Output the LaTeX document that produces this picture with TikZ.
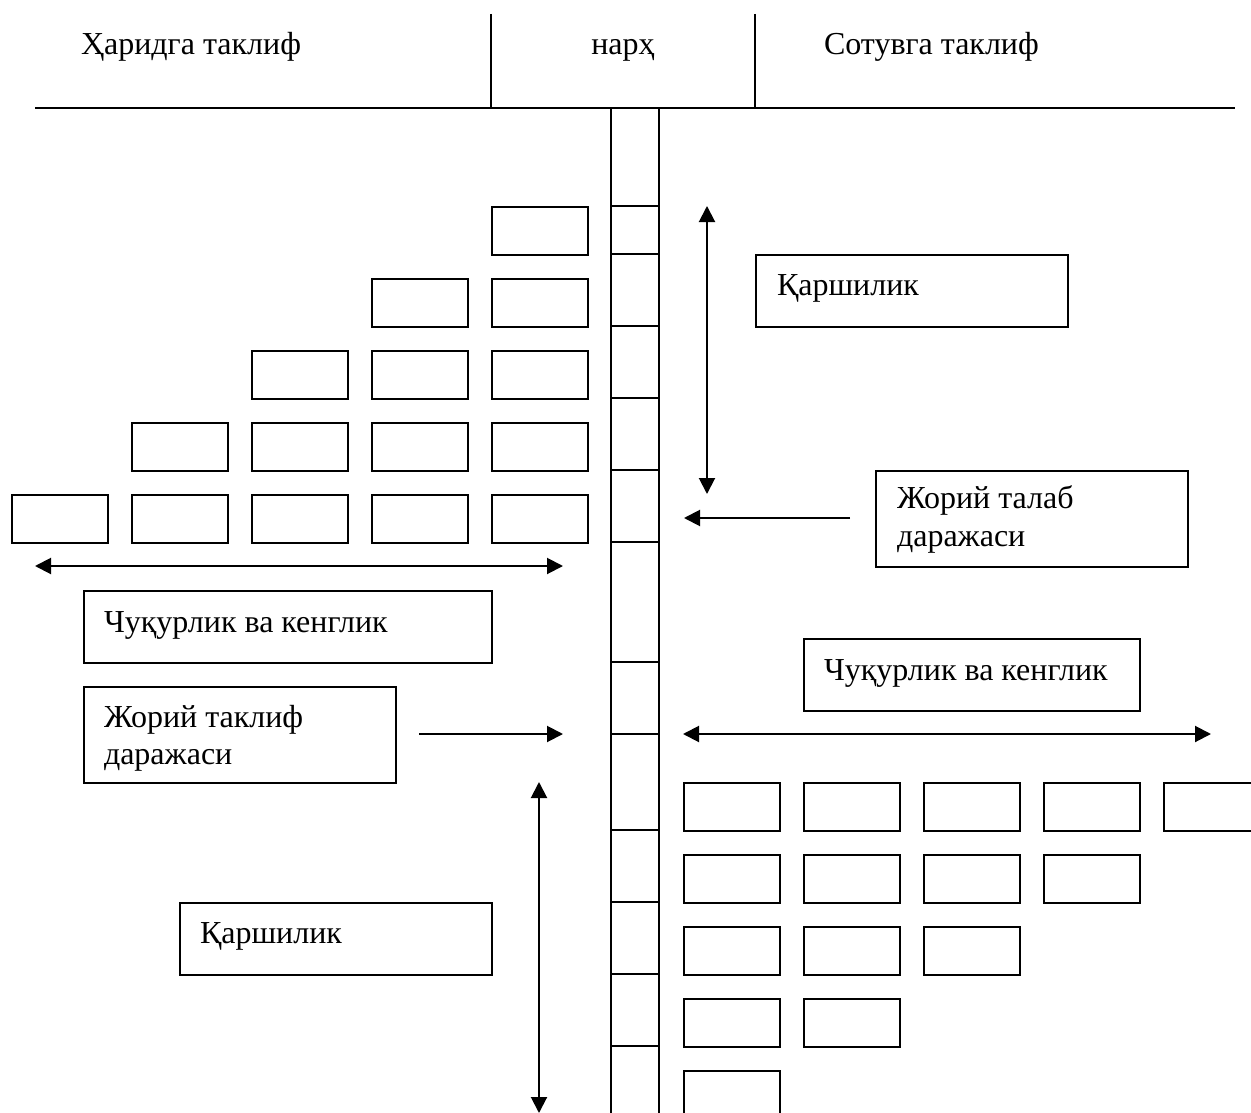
\documentclass[tikz,border=0pt]{standalone}
\usepackage{fontspec}
\setmainfont{Liberation Serif}
\usetikzlibrary{arrows.meta}

\begin{document}
\begin{tikzpicture}[x=1pt,y=-1pt,
  line width=2pt,
  cell/.style={draw, line width=2pt, anchor=north west, inner sep=0pt,
               minimum width=96pt, minimum height=48pt},
  panel/.style={draw, line width=2pt, anchor=north west, inner sep=0pt},
  txt/.style={inner sep=0pt, anchor=base west, font=\fontsize{32}{38}\selectfont},
  tip/.style={-{Triangle[length=16pt,width=16pt]}},
  dtip/.style={{Triangle[length=16pt,width=16pt]}-{Triangle[length=16pt,width=16pt]}}]

\useasboundingbox (0,0) rectangle (1251,1113);
\clip (0,0) rectangle (1251,1113);

% header
\draw (35,108) -- (1235,108);
\draw (491,14) -- (491,108);
\draw (755,14) -- (755,108);
\node[txt] (buy) at (80,55) {Ҳаридга таклиф};
\node[txt, anchor=base] (price) at (623,55) {нарҳ};
\node[txt] (sell) at (823,55) {Сотувга таклиф};

% price column
\draw (611,108) -- (611,1120);
\draw (659,108) -- (659,1120);
\foreach \y in {206,254,326,398,470,542,662,734,830,902,974,1046}
  \draw (611,\y) -- (659,\y);

% buy orders (left staircase)
\foreach \r in {1,...,5}
  \foreach \c in {1,...,\r}
    \node[cell] (L-\r-\c) at ({491-120*(\c-1)},{206+72*(\r-1)}) {};

% sell orders (right staircase)
\foreach \r in {1,...,5}{
  \pgfmathtruncatemacro\n{6-\r}
  \foreach \c in {1,...,\n}
    \node[cell] (R-\r-\c) at ({683+120*(\c-1)},{782+72*(\r-1)}) {};
}
% last cell in the first sell row runs past the edge
\node[panel, minimum width=100pt, minimum height=48pt] (R-1-x) at (1163,782) {};

% labelled panels
\node[panel, minimum width=312pt, minimum height=72pt] (resR) at (755,254) {};
\node[txt] (resRt) at (776,295) {Қаршилик};

\node[panel, minimum width=312pt, minimum height=96pt] (demand) at (875,470) {};
\node[txt] (demand1) at (896,508) {Жорий талаб};
\node[txt] (demand2) at (896,546) {даражаси};

\node[panel, minimum width=408pt, minimum height=72pt] (depL) at (83,590) {};
\node[txt] (depLt) at (103,632) {Чуқурлик ва кенглик};

\node[panel, minimum width=336pt, minimum height=72pt] (depR) at (803,638) {};
\node[txt] (depRt) at (823,680) {Чуқурлик ва кенглик};

\node[panel, minimum width=312pt, minimum height=96pt] (supply) at (83,686) {};
\node[txt] (supply1) at (103,727) {Жорий таклиф};
\node[txt] (supply2) at (103,764) {даражаси};

\node[panel, minimum width=312pt, minimum height=72pt] (resL) at (179,902) {};
\node[txt] (resLt) at (199,943) {Қаршилик};

% arrow end points
\coordinate (rvTop) at (707,206);
\coordinate (rvBot) at (707,494);
\coordinate (dFrom) at (850,518);
\coordinate (dTo) at (684,518);
\coordinate (lhA) at (35,566);
\coordinate (lhB) at (563,566);
\coordinate (sFrom) at (419,734);
\coordinate (sTo) at (563,734);
\coordinate (rhA) at (683,734);
\coordinate (rhB) at (1211,734);
\coordinate (lvTop) at (539,782);
\coordinate (lvBot) at (539,1113);

% arrows
\draw[dtip] (rvBot) -- (rvTop);
\draw[tip] (dFrom) -- (dTo);
\draw[dtip] (lhA) -- (lhB);
\draw[tip] (sFrom) -- (sTo);
\draw[dtip] (rhA) -- (rhB);
\draw[dtip] (lvTop) -- (lvBot);

\end{tikzpicture}
\end{document}
